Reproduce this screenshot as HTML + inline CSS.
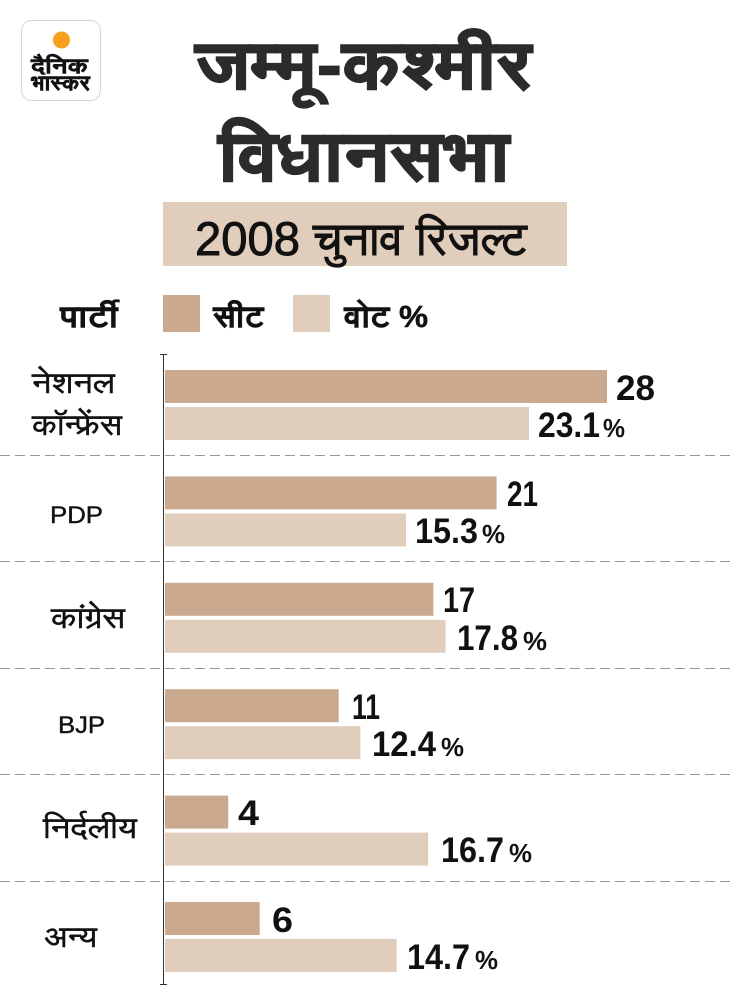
<!DOCTYPE html>
<html>
<head>
<meta charset="utf-8">
<style>
  html,body{margin:0;padding:0;background:#fff;}
  svg{display:block;}
  text{font-family:"Liberation Sans","FreeSans","Noto Sans Devanagari","Lohit Devanagari","Mukta","DejaVu Sans",sans-serif;}
</style>
</head>
<body>
<svg width="730" height="994" viewBox="0 0 730 994" xmlns="http://www.w3.org/2000/svg">
  <rect x="0" y="0" width="730" height="994" fill="#ffffff"/>

  <!-- Logo -->
  <rect x="21.5" y="20.5" width="79" height="80" rx="10" ry="10" fill="#ffffff" stroke="#d4d4d4" stroke-width="1"/>
  <circle cx="61.5" cy="40" r="8.5" fill="#f5a01e"/>
  <text x="31" y="73" font-size="21" font-weight="bold" fill="#111" stroke="#111" stroke-width="0.6" textLength="57" lengthAdjust="spacingAndGlyphs">दैनिक</text>
  <text x="31" y="90" font-size="21" font-weight="bold" fill="#111" stroke="#111" stroke-width="0.6" textLength="59" lengthAdjust="spacingAndGlyphs">भास्कर</text>

  <!-- Title -->
  <text x="195" y="88" font-size="68" font-weight="bold" fill="#2b2b2b" stroke="#2b2b2b" stroke-width="1.5" textLength="337" lengthAdjust="spacingAndGlyphs">जम्मू-कश्मीर</text>
  <text x="218" y="180" font-size="70" font-weight="bold" fill="#2b2b2b" stroke="#2b2b2b" stroke-width="1.5" textLength="292" lengthAdjust="spacingAndGlyphs">विधानसभा</text>

  <!-- Subtitle box -->
  <rect x="163" y="202" width="404" height="64" fill="#e0cdbb"/>
  <text x="195" y="255" font-size="47" fill="#111" stroke="#111" stroke-width="0.9" textLength="332" lengthAdjust="spacingAndGlyphs">2008 चुनाव रिजल्ट</text>

  <!-- Legend -->
  <text x="60" y="327" font-size="31" font-weight="bold" fill="#111" stroke="#111" stroke-width="0.5" textLength="58" lengthAdjust="spacingAndGlyphs">पार्टी</text>
  <rect x="163" y="295" width="37" height="37" fill="#cba98e"/>
  <text x="213" y="327" font-size="31" font-weight="bold" fill="#111" stroke="#111" stroke-width="0.5" textLength="51" lengthAdjust="spacingAndGlyphs">सीट</text>
  <rect x="293" y="295" width="37" height="37" fill="#e0cdbc"/>
  <text x="344" y="327" font-size="31" font-weight="bold" fill="#111" stroke="#111" stroke-width="0.5" textLength="84" lengthAdjust="spacingAndGlyphs">वोट %</text>

  <!-- Separators -->
  <g stroke="#999" stroke-width="1" stroke-dasharray="10 5">
    <line x1="0" y1="455.5" x2="730" y2="455.5"/>
    <line x1="0" y1="561.5" x2="730" y2="561.5"/>
    <line x1="0" y1="668.5" x2="730" y2="668.5"/>
    <line x1="0" y1="774.5" x2="730" y2="774.5"/>
    <line x1="0" y1="881.5" x2="730" y2="881.5"/>
  </g>

  <!-- Bars: seats -->
  <g fill="#cba98e">
    <rect x="165" y="370" width="442" height="33"/>
    <rect x="165" y="476.4" width="331.6" height="33"/>
    <rect x="165" y="582.8" width="268.4" height="33"/>
    <rect x="165" y="689.2" width="173.7" height="33"/>
    <rect x="165" y="795.6" width="63.2" height="33"/>
    <rect x="165" y="902" width="94.7" height="33"/>
  </g>
  <!-- Bars: votes -->
  <g fill="#e0cdbc">
    <rect x="165" y="407" width="364" height="33"/>
    <rect x="165" y="513.4" width="241" height="33"/>
    <rect x="165" y="619.8" width="280.5" height="33"/>
    <rect x="165" y="726.2" width="195.4" height="33"/>
    <rect x="165" y="832.6" width="263.2" height="33"/>
    <rect x="165" y="939" width="231.7" height="33"/>
  </g>

  <!-- Axis -->
  <g stroke="#333" stroke-width="1">
    <line x1="163.5" y1="354" x2="163.5" y2="985"/>
    <line x1="160" y1="354.5" x2="167" y2="354.5"/>
    <line x1="160" y1="984.5" x2="167" y2="984.5"/>
  </g>

  <!-- Row labels -->
  <g font-size="30" fill="#111" stroke="#111" stroke-width="0.4">
    <text x="32" y="393" textLength="83" lengthAdjust="spacingAndGlyphs">नेशनल</text>
    <text x="32" y="435" textLength="90" lengthAdjust="spacingAndGlyphs">कॉन्फ्रेंस</text>
    <text x="50" y="523" font-size="24" textLength="53" lengthAdjust="spacingAndGlyphs">PDP</text>
    <text x="51" y="628" textLength="74" lengthAdjust="spacingAndGlyphs">कांग्रेस</text>
    <text x="58" y="733" font-size="24" textLength="47" lengthAdjust="spacingAndGlyphs">BJP</text>
    <text x="43" y="838" textLength="94" lengthAdjust="spacingAndGlyphs">निर्दलीय</text>
    <text x="44" y="947" textLength="53" lengthAdjust="spacingAndGlyphs">अन्य</text>
  </g>

  <!-- Seat value labels -->
  <g font-size="35" font-weight="bold" fill="#111">
    <text x="616" y="400" textLength="39" lengthAdjust="spacingAndGlyphs">28</text>
    <text x="507" y="506" textLength="31" lengthAdjust="spacingAndGlyphs">21</text>
    <text x="443" y="612" textLength="32" lengthAdjust="spacingAndGlyphs">17</text>
    <text x="352" y="719" textLength="28" lengthAdjust="spacingAndGlyphs">11</text>
    <text x="238" y="825" textLength="21" lengthAdjust="spacingAndGlyphs">4</text>
    <text x="272" y="932" textLength="21" lengthAdjust="spacingAndGlyphs">6</text>
  </g>

  <!-- Vote value labels -->
  <g font-size="35" font-weight="bold" fill="#111">
    <text x="538" y="437" textLength="62" lengthAdjust="spacingAndGlyphs">23.1</text>
    <text x="415" y="543" textLength="63" lengthAdjust="spacingAndGlyphs">15.3</text>
    <text x="457" y="650" textLength="61" lengthAdjust="spacingAndGlyphs">17.8</text>
    <text x="372" y="756" textLength="64" lengthAdjust="spacingAndGlyphs">12.4</text>
    <text x="441" y="862" textLength="63" lengthAdjust="spacingAndGlyphs">16.7</text>
    <text x="407" y="969" textLength="63" lengthAdjust="spacingAndGlyphs">14.7</text>
  </g>
  <g font-size="26" font-weight="bold" fill="#111">
    <text x="603" y="437" textLength="22" lengthAdjust="spacingAndGlyphs">%</text>
    <text x="482" y="543" textLength="23" lengthAdjust="spacingAndGlyphs">%</text>
    <text x="523" y="650" textLength="24" lengthAdjust="spacingAndGlyphs">%</text>
    <text x="441" y="756" textLength="23" lengthAdjust="spacingAndGlyphs">%</text>
    <text x="509" y="862" textLength="23" lengthAdjust="spacingAndGlyphs">%</text>
    <text x="475" y="969" textLength="23" lengthAdjust="spacingAndGlyphs">%</text>
  </g>
</svg>
</body>
</html>
